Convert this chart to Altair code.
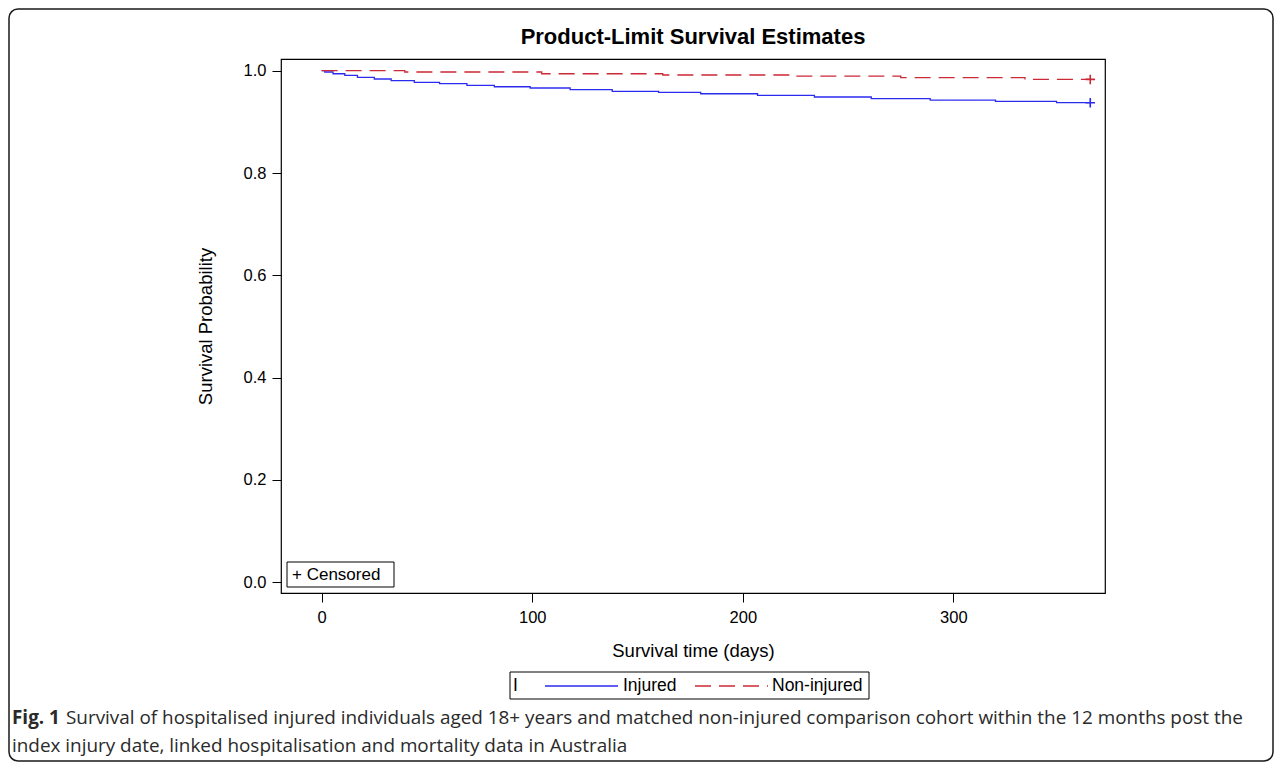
import altair as alt
import pandas as pd

# ---------------- data ----------------
groups = ["Injured", "Non-injured"]
colors = ["#2b2bef", "#cc2936"]
dashes = [[1, 0], [16, 8]]

inj_days = [0, 1.5, 5.4, 11, 17, 25, 33, 44, 56, 69, 82, 99, 118, 138, 160,
            180, 207, 234, 261, 289, 320, 349, 365]
inj_surv = [1.000, 0.9975, 0.9941, 0.9908, 0.9869, 0.9838, 0.9805, 0.9771,
            0.9746, 0.9713, 0.9687, 0.9662, 0.9629, 0.9595, 0.9576, 0.9550,
            0.9517, 0.9486, 0.9453, 0.9427, 0.9400, 0.9375, 0.9375]

non_days = [0, 39.5, 104.5, 162, 224, 275, 334, 365]
non_surv = [1.000, 0.9975, 0.9941, 0.9916, 0.9896, 0.9863, 0.9830, 0.9830]

x_ticks = [0, 100, 200, 300]
y_ticks = [0.0, 0.2, 0.4, 0.6, 0.8, 1.0]

title_text = "Product-Limit Survival Estimates"
x_title = "Survival time (days)"
y_title = "Survival Probability"
legend_lead = "I"
censored_text = "+ Censored"
cap_bold = "Fig. 1"
cap_line1 = ("Survival of hospitalised injured individuals aged 18+ years and matched "
             "non-injured comparison cohort within the 12 months post the")
cap_line2 = "index injury date, linked hospitalisation and mortality data in Australia"

# ---------------- tables ----------------
df = pd.concat([
    pd.DataFrame({"day": inj_days, "surv": inj_surv, "group": groups[0]}),
    pd.DataFrame({"day": non_days, "surv": non_surv, "group": groups[1]}),
], ignore_index=True)
cens = pd.DataFrame({
    "day": [inj_days[-1], non_days[-1]],
    "surv": [inj_surv[-1], non_surv[-1]],
    "group": groups,
})
one = pd.DataFrame({"k": [0]})

# ---------------- layout (page px) ----------------
PL, PT = 281, 59          # plot-area origin on the page
W, H = 824, 534           # plot-area size
SVG_W, SVG_H = 1266, 754


def px(x):
    return x - PL


def py(y):
    return y - PT


FONT = "Liberation Sans"
CAPFONT = "Open Sans"

X = alt.X("day:Q",
          scale=alt.Scale(domain=[-19.3, 372], nice=False, zero=False),
          axis=alt.Axis(values=x_ticks, title=x_title, titlePadding=16, labelPadding=7))
Y = alt.Y("surv:Q",
          scale=alt.Scale(domain=[-0.0209, 1.0229], nice=False, zero=False),
          axis=alt.Axis(values=y_ticks, format=".1f", title=y_title,
                        titlePadding=28, labelPadding=6))

lines = alt.Chart(df).mark_line(interpolate="step-after", strokeWidth=1.3).encode(
    x=X, y=Y,
    color=alt.Color("group:N", scale=alt.Scale(domain=groups, range=colors), legend=None),
    strokeDash=alt.StrokeDash("group:N", scale=alt.Scale(domain=groups, range=dashes), legend=None),
)

plus_layers = []
for g, c in zip(groups, colors):
    plus_layers.append(
        alt.Chart(cens).transform_filter(alt.datum.group == g).mark_point(
            shape="M-1,0L1,0M0,-1L0,1", filled=False, size=90, strokeWidth=1.6,
            opacity=1, color=c).encode(x="day:Q", y="surv:Q")
    )

title = alt.Chart(one).mark_text(text=title_text, font=FONT, fontSize=22, fontWeight="bold",
                                 align="center", baseline="alphabetic", color="#000").encode(
    x=alt.value(W / 2), y=alt.value(py(44)))

border = alt.Chart(one).mark_rect(fill="transparent", stroke="#1a1a1a", strokeWidth=1.5,
                                  cornerRadius=9).encode(
    x=alt.value(px(9)), x2=alt.value(px(1273)), y=alt.value(py(9)), y2=alt.value(py(761)))

# "+ Censored" inset box
cbox = alt.Chart(one).mark_rect(fill="white", stroke="#000", strokeWidth=1).encode(
    x=alt.value(px(287)), x2=alt.value(px(394)), y=alt.value(py(562)), y2=alt.value(py(587)))
ctext = alt.Chart(one).mark_text(text=censored_text, font=FONT, fontSize=17, align="left",
                                 baseline="middle", color="#000").encode(
    x=alt.value(px(292)), y=alt.value(py(575)))

# bottom legend box
LY = 686
lbox = alt.Chart(one).mark_rect(fill="white", stroke="#000", strokeWidth=1).encode(
    x=alt.value(px(510)), x2=alt.value(px(869)), y=alt.value(py(672)), y2=alt.value(py(699)))
llead = alt.Chart(one).mark_text(text=legend_lead, font=FONT, fontSize=17.5, align="left",
                                 baseline="middle", color="#000").encode(
    x=alt.value(px(513)), y=alt.value(py(LY)))
sym_x = [(545, 618), (695, 768)]
lab_x = [623, 772]
legend_layers = []
for g, c, d, (a, b), lx in zip(groups, colors, dashes, sym_x, lab_x):
    legend_layers.append(
        alt.Chart(one).mark_rule(color=c, strokeWidth=1.3, strokeDash=d).encode(
            x=alt.value(px(a)), x2=alt.value(px(b)), y=alt.value(py(LY)))
    )
    legend_layers.append(
        alt.Chart(one).mark_text(text=g, font=FONT, fontSize=17.5, align="left",
                                 baseline="middle", color="#000").encode(
            x=alt.value(px(lx)), y=alt.value(py(LY)))
    )

cap_b = alt.Chart(one).mark_text(text=cap_bold, font=CAPFONT, fontSize=18.9, fontWeight="bold",
                                 align="left", baseline="alphabetic", color="#2a2a2a").encode(
    x=alt.value(px(12)), y=alt.value(py(724)))
cap_1 = alt.Chart(one).mark_text(text=cap_line1, font=CAPFONT, fontSize=18.9,
                                 align="left", baseline="alphabetic", color="#2a2a2a").encode(
    x=alt.value(px(66)), y=alt.value(py(724)))
cap_2 = alt.Chart(one).mark_text(text=cap_line2, font=CAPFONT, fontSize=18.9,
                                 align="left", baseline="alphabetic", color="#2a2a2a").encode(
    x=alt.value(px(12)), y=alt.value(py(752)))

chart = alt.layer(border, lines, *plus_layers, cbox, ctext, lbox, llead, *legend_layers,
                  title, cap_b, cap_1, cap_2).properties(
    width=W, height=H,
    autosize=alt.AutoSizeParams(type="none"),
    padding={"left": PL - 8, "top": PT - 8, "right": SVG_W - (PL - 8) - W,
             "bottom": SVG_H - (PT - 8) - H},
    background="white",
).configure_view(
    stroke="#000", strokeWidth=1.2
).configure_axis(
    labelFont=FONT, labelFontSize=16.5, labelColor="#000",
    titleFont=FONT, titleFontSize=18.5, titleFontWeight="normal", titleColor="#000",
    tickColor="#000", tickSize=9, tickWidth=1, domain=False, grid=False,
)

chart.save("out.html", embed_options={"renderer": "svg", "actions": False})
